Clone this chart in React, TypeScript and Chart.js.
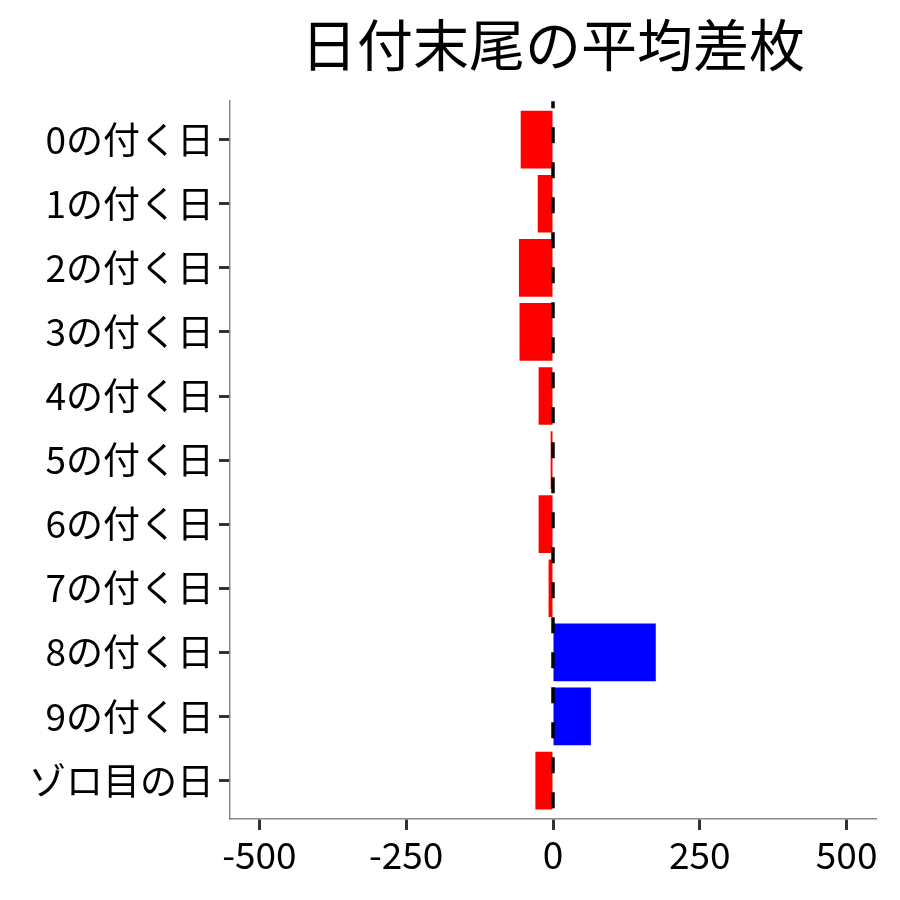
import React, { useEffect, useRef } from 'react'
import { Chart, registerables } from 'chart.js'

Chart.register(...registerables)

const categories = [
  '0の付く日',
  '1の付く日',
  '2の付く日',
  '3の付く日',
  '4の付く日',
  '5の付く日',
  '6の付く日',
  '7の付く日',
  '8の付く日',
  '9の付く日',
  'ゾロ目の日',
]
const avgDiff = [-55, -26, -58, -57, -24.5, -4, -24.5, -7.5, 175, 64.5, -30]
const xTicks = [-500, -250, 0, 250, 500]

const FONT = '"Noto Sans CJK JP", "Noto Sans", sans-serif'

// dashed vertical line at x = 0, drawn over the bars
const zeroLine = {
  id: 'zeroLine',
  afterDatasetsDraw(chart: Chart) {
    const { ctx, chartArea, scales } = chart
    const x = scales.x.getPixelForValue(0)
    ctx.save()
    ctx.strokeStyle = '#000000'
    ctx.lineWidth = 3.5
    ctx.setLineDash([16, 19])
    ctx.lineDashOffset = 9
    ctx.beginPath()
    ctx.moveTo(x, chartArea.top)
    ctx.lineTo(x, chartArea.bottom)
    ctx.stroke()
    ctx.restore()
  },
}

const App: React.FC = () => {
  const chartRef = useRef<HTMLCanvasElement | null>(null)

  useEffect(() => {
    document.body.style.margin = '0'
    if (!chartRef.current) return

    const chart = new Chart(chartRef.current, {
      type: 'bar',
      data: {
        datasets: [
          {
            label: '平均差枚',
            data: avgDiff.map((v, i) => ({ x: v, y: i })),
            backgroundColor: avgDiff.map(v => (v < 0 ? '#ff0000' : '#0000ff')),
            borderWidth: 0,
            barPercentage: 0.9,
            categoryPercentage: 1,
          },
        ],
      },
      options: {
        indexAxis: 'y',
        animation: false,
        responsive: false,
        maintainAspectRatio: false,
        layout: { padding: { left: 0, right: 24, top: 0, bottom: 0 } },
        plugins: {
          legend: { display: false },
          tooltip: { enabled: false },
          title: {
            display: true,
            text: '日付末尾の平均差枚',
            fullSize: false,
            color: '#000000',
            font: { family: FONT, size: 56, weight: 'normal', lineHeight: 1.2 },
            padding: { top: 11, bottom: 23 },
          },
        },
        scales: {
          x: {
            type: 'linear',
            min: -550,
            max: 550,
            afterBuildTicks: scale => {
              scale.ticks = xTicks.map(v => ({ value: v }))
            },
            afterFit: scale => {
              scale.height = 81
            },
            grid: {
              drawOnChartArea: false,
              drawTicks: true,
              tickLength: 11,
              tickColor: '#333333',
              tickWidth: 3,
            },
            border: { display: true, color: '#888888', width: 1.5 },
            ticks: {
              color: '#000000',
              padding: 3,
              maxRotation: 0,
              font: { family: FONT, size: 37 },
            },
          },
          y: {
            type: 'linear',
            min: -0.6,
            max: 10.6,
            reverse: true,
            offset: false,
            afterBuildTicks: scale => {
              scale.ticks = categories.map((_, i) => ({ value: i }))
            },
            afterFit: scale => {
              scale.width = 230
            },
            grid: {
              offset: false,
              drawOnChartArea: false,
              drawTicks: true,
              tickLength: 11,
              tickColor: '#333333',
              tickWidth: 3,
            },
            border: { display: true, color: '#888888', width: 1.5 },
            ticks: {
              color: '#000000',
              padding: 5,
              autoSkip: false,
              font: { family: FONT, size: 37 },
              callback: value => categories[Number(value)] ?? '',
            },
          },
        },
      },
      plugins: [zeroLine],
    })

    return () => {
      chart.destroy()
    }
  }, [])

  return (
    <div style={{ width: 900, height: 900, background: '#ffffff' }}>
      <canvas ref={chartRef} width={900} height={900} />
    </div>
  )
}

export default App
